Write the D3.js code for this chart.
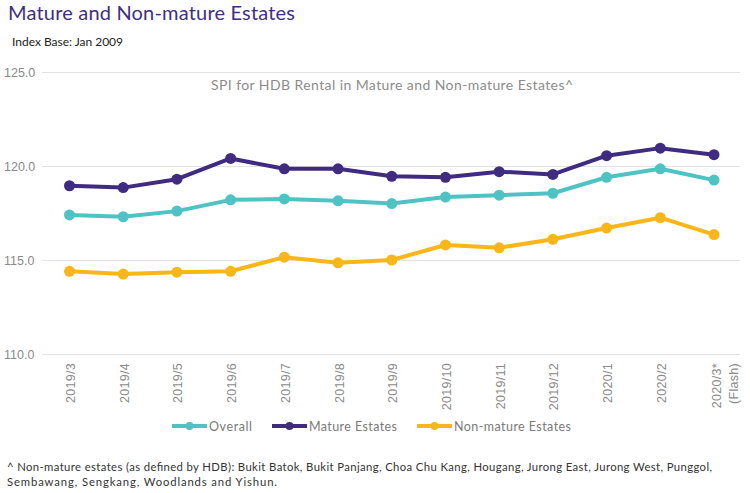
<!DOCTYPE html>
<html>
<head>
<meta charset="utf-8">
<script src="https://cdn.jsdelivr.net/npm/d3@7.9.0/dist/d3.min.js"></script>
<style>
  body { margin: 0; background: #fff; }
  svg { display: block; font-family: Lato, "Open Sans", sans-serif; }
</style>
</head>
<body>
<svg id="chart" width="750" height="493"></svg>
<script>
// months on the x axis
const months = ['2019/3', '2019/4', '2019/5', '2019/6', '2019/7', '2019/8', '2019/9',
  '2019/10', '2019/11', '2019/12', '2020/1', '2020/2', '2020/3*'];

// index values
const overall = [117.4, 117.3, 117.6, 118.2, 118.25, 118.15, 118.0, 118.35, 118.45, 118.55, 119.4, 119.85, 119.25];
const mature = [118.95, 118.85, 119.3, 120.4, 119.85, 119.85, 119.45, 119.4, 119.7, 119.55, 120.55, 120.95, 120.6];
const nonMature = [114.4, 114.25, 114.35, 114.4, 115.15, 114.85, 115.0, 115.8, 115.65, 116.1, 116.7, 117.25, 116.35];

const yTicks = [110, 115, 120, 125];

const series = [
  { name: 'Overall', values: overall, color: '#4fc3c4' },
  { name: 'Mature Estates', values: mature, color: '#3f2c80' },
  { name: 'Non-mature Estates', values: nonMature, color: '#f8b619' }
];

const svg = d3.select('#chart');

// scales
const x = d3.scalePoint().domain(months).range([69.5, 714]);
const y = d3.scaleLinear().domain([110, 125]).range([354, 72]);

// titles
svg.append('text')
  .attr('x', 8).attr('y', 20)
  .attr('fill', '#3f2f7e')
  .style('font-size', '20px')
  .attr('textLength', 287)
  .text('Mature and Non-mature Estates');

svg.append('text')
  .attr('x', 12).attr('y', 46)
  .attr('fill', '#222')
  .style('font-size', '12px')
  .attr('textLength', 111)
  .text('Index Base: Jan 2009');

svg.append('text')
  .attr('x', 211).attr('y', 90)
  .attr('fill', '#8c8c8c')
  .style('font-size', '14px')
  .attr('textLength', 362)
  .text('SPI for HDB Rental in Mature and Non-mature Estates^');

// gridlines + y labels
const yAxis = svg.append('g')
  .attr('transform', 'translate(42,0)')
  .call(d3.axisLeft(y).tickValues(yTicks).tickFormat(d3.format('.1f')).tickSize(-698).tickPadding(6));
yAxis.select('.domain').remove();
yAxis.selectAll('.tick line').attr('stroke', '#e3e3e3');
yAxis.selectAll('.tick text')
  .attr('fill', '#8a8a8a')
  .style('font-size', '12.5px')
  .attr('text-anchor', 'start')
  .attr('x', -38);

// x labels, rotated
const xAxis = svg.append('g')
  .attr('transform', 'translate(0,354)')
  .call(d3.axisBottom(x).tickSize(0));
xAxis.select('.domain').remove();
xAxis.selectAll('.tick text').remove();
xAxis.selectAll('.tick').each(function (d) {
  const t = d3.select(this).append('text')
    .attr('transform', 'rotate(-90)')
    .attr('text-anchor', 'end')
    .attr('fill', '#8a8a8a')
    .style('font-size', '12.5px')
    .style('letter-spacing', '0.3px');
  if (d === '2020/3*') {
    t.append('tspan').attr('x', -9).attr('y', 6).text('2020/3*');
    t.append('tspan').attr('x', -9).attr('y', 23).text('(Flash)');
  } else {
    t.attr('x', -9).attr('y', 5).text(d);
  }
});

// lines and markers
const line = d3.line()
  .x((d, i) => x(months[i]))
  .y(d => y(d));

series.forEach(s => {
  svg.append('path')
    .datum(s.values)
    .attr('d', line)
    .attr('fill', 'none')
    .attr('stroke', s.color)
    .attr('stroke-width', 4)
    .attr('stroke-linejoin', 'round');
  svg.selectAll(null)
    .data(s.values)
    .join('circle')
    .attr('cx', (d, i) => x(months[i]))
    .attr('cy', d => y(d))
    .attr('r', 5.5)
    .attr('fill', s.color);
});

// legend
const legendX = [172, 272, 417];
const legendW = [43, 88, 117];
const legend = svg.append('g').attr('transform', 'translate(0,426)');
series.forEach((s, i) => {
  const g = legend.append('g').attr('transform', `translate(${legendX[i]},0)`);
  g.append('line').attr('x1', 0).attr('x2', 35)
    .attr('stroke', s.color).attr('stroke-width', 4);
  g.append('circle').attr('cx', 17.5).attr('r', 4).attr('fill', s.color);
  g.append('text').attr('x', 37).attr('y', 4.5)
    .attr('fill', '#7a7a7a')
    .style('font-size', '12.5px')
    .attr('textLength', legendW[i])
    .text(s.name);
});

// footnote
svg.append('text')
  .attr('x', 7).attr('y', 471)
  .attr('fill', '#333')
  .style('font-size', '11.3px')
  .attr('textLength', 705)
  .text('^ Non-mature estates (as defined by HDB): Bukit Batok, Bukit Panjang, Choa Chu Kang, Hougang, Jurong East, Jurong West, Punggol,');
svg.append('text')
  .attr('x', 7).attr('y', 486)
  .attr('fill', '#333')
  .style('font-size', '11.3px')
  .attr('textLength', 270)
  .text('Sembawang, Sengkang, Woodlands and Yishun.');
</script>
</body>
</html>
